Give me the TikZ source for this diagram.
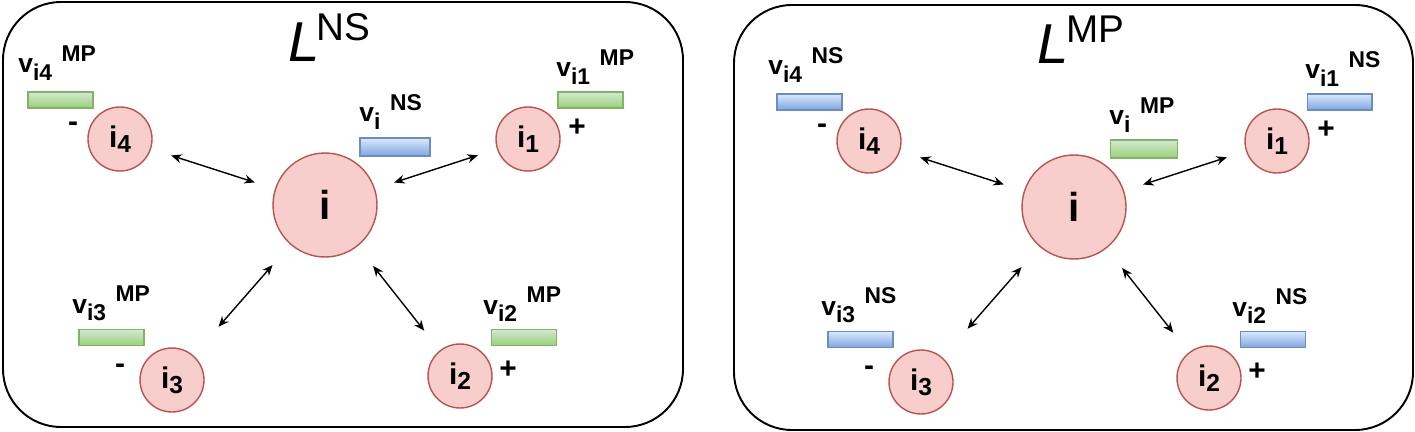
\documentclass[tikz,border=0pt]{standalone}
\usepackage{fontspec}
\setmainfont{Liberation Sans}
\usepackage{tikz}
\usetikzlibrary{arrows.meta}
\definecolor{nodefill}{HTML}{F8CECC}
\definecolor{nodeline}{HTML}{B85450}
\definecolor{greentop}{HTML}{D5E8D4}
\definecolor{greenbot}{HTML}{97D077}
\definecolor{greenline}{HTML}{82B366}
\definecolor{bluetop}{HTML}{DAE8FC}
\definecolor{bluebot}{HTML}{7EA6E0}
\definecolor{blueline}{HTML}{6C8EBF}
\newcommand{\fs}[1]{\fontsize{#1}{#1}\selectfont}
\newcommand{\vtag}[2]{{\fs{15pt}v}\raisebox{-4.2pt}{\fs{13pt}#1}\hspace{5.5pt}\raisebox{6.8pt}{\fs{13pt}#2}}
\newcommand{\isub}[1]{i\raisebox{-3pt}{\fs{14pt}#1}}
\newcommand{\ltitle}[1]{{\itshape\fs{32pt}L}\kern-1.5pt\raisebox{12.5pt}{\fs{22pt}#1}}
\tikzset{panel/.style={draw=black,line width=1.1pt,rounded corners=1.16cm},
    agent/.style={circle,draw=nodeline,fill=nodefill,line width=0.8pt,inner sep=0pt,
        minimum size=1.28cm,font=\bfseries\fs{17pt}},
    hub/.style={agent,minimum size=2.08cm,font=\bfseries\fs{23pt}},
    mpbar/.style={rectangle,draw=greenline,top color=greentop,bottom color=greenbot,
        line width=0.6pt,minimum width=1.3cm,minimum height=0.32cm,inner sep=0pt},
    nsbar/.style={mpbar,draw=blueline,top color=bluetop,bottom color=bluebot},
    vlab/.style={anchor=base west,inner sep=0pt,font=\bfseries},
    sign/.style={inner sep=0pt,font=\bfseries\fs{17pt}},
    link/.style={{Stealth[length=6pt,width=5pt]}-{Stealth[length=6pt,width=5pt]},
        line width=0.8pt,shorten <=#1,shorten >=#1},
    link/.default=0.42cm
}

\begin{document}
\begin{tikzpicture}[x=0.02cm,y=-0.02cm]
           \useasboundingbox (0,0) rectangle (1415,432);
           % left panel
           \draw[panel] (3,2) rectangle (683,427);
           \node[anchor=base west,inner sep=0pt] (tNS) at (288,62) {\ltitle{NS}};
           \node[hub] (iNS) at (325,205) {i};
           \node[agent] (iNS1) at (528,139) {\isub{1}};
           \node[agent] (iNS2) at (460,376) {\isub{2}};
           \node[agent] (iNS3) at (172,380) {\isub{3}};
           \node[agent] (iNS4) at (120,139) {\isub{4}};
           \node[nsbar,minimum width=1.4cm,minimum height=0.36cm] (bNS) at (395,147) {};
           \node[mpbar] (bNS1) at (590.5,100) {};
           \node[mpbar] (bNS2) at (524,337.5) {};
           \node[mpbar] (bNS3) at (111.5,337.5) {};
           \node[mpbar] (bNS4) at (60.5,100) {};
           \node[vlab] (vNS) at (359,122) {\vtag{i}{NS}};
           \node[vlab] (vNS1) at (556,77) {\vtag{i1}{MP}};
           \node[vlab] (vNS2) at (483,314) {\vtag{i2}{MP}};
           \node[vlab] (vNS3) at (72,313) {\vtag{i3}{MP}};
           \node[vlab] (vNS4) at (18,73) {\vtag{i4}{MP}};
           \node[sign] (sNS1) at (577,128) {+};
           \node[sign] (sNS2) at (508,370) {+};
           \node[sign] (sNS3) at (120,369) {-};
           \node[sign] (sNS4) at (73,127) {-};
           \draw[link] (iNS4) -- (iNS);
           \draw[link=0.4cm] (iNS) -- (iNS1);
           \draw[link=0.5cm] (iNS) -- (iNS2);
           \draw[link=0.54cm,shorten >=0.76cm] (iNS) -- (iNS3);
           % right panel
           \draw[panel] (734,5) rectangle (1413,430);
           \node[anchor=base west,inner sep=0pt] (tMP) at (1037,64) {\ltitle{MP}};
           \node[hub] (iMP) at (1074,207) {i};
           \node[agent] (iMP1) at (1277,141) {\isub{1}};
           \node[agent] (iMP2) at (1209,378) {\isub{2}};
           \node[agent] (iMP3) at (921,382) {\isub{3}};
           \node[agent] (iMP4) at (869,141) {\isub{4}};
           \node[mpbar,minimum width=1.34cm,minimum height=0.36cm] (bMP) at (1144,149) {};
           \node[nsbar] (bMP1) at (1339.5,102) {};
           \node[nsbar] (bMP2) at (1273,339.5) {};
           \node[nsbar] (bMP3) at (860.5,339.5) {};
           \node[nsbar] (bMP4) at (809.5,102) {};
           \node[vlab] (vMP) at (1109,125) {\vtag{i}{MP}};
           \node[vlab] (vMP1) at (1305,79) {\vtag{i1}{NS}};
           \node[vlab] (vMP2) at (1232,316) {\vtag{i2}{NS}};
           \node[vlab] (vMP3) at (821,315) {\vtag{i3}{NS}};
           \node[vlab] (vMP4) at (768,75) {\vtag{i4}{NS}};
           \node[sign] (sMP1) at (1326,130) {+};
           \node[sign] (sMP2) at (1257,372) {+};
           \node[sign] (sMP3) at (869,371) {-};
           \node[sign] (sMP4) at (822,129) {-};
           \draw[link] (iMP4) -- (iMP);
           \draw[link=0.4cm] (iMP) -- (iMP1);
           \draw[link=0.5cm] (iMP) -- (iMP2);
           \draw[link=0.54cm,shorten >=0.76cm] (iMP) -- (iMP3);
\end{tikzpicture}
\end{document}
